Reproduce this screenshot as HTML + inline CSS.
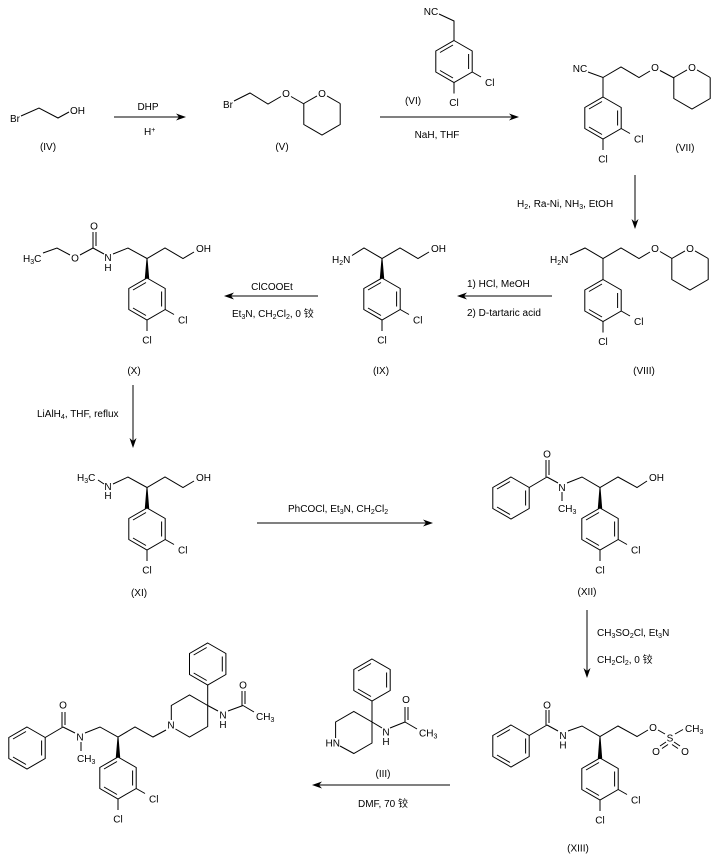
<!DOCTYPE html>
<html><head><meta charset="utf-8"><style>
html,body{margin:0;padding:0;background:#fff;}
svg{display:block;}
</style></head><body>
<svg width="720" height="854" viewBox="0 0 720 854" xmlns="http://www.w3.org/2000/svg" xmlns:xlink="http://www.w3.org/1999/xlink">
<defs>
<g id="ph" stroke="#000" stroke-width="1" fill="none">
<polygon points="0,0 18.2,10.5 18.2,31.5 0,42 -18.2,31.5 -18.2,10.5"/>
<line x1="-1" y1="4.5" x2="-14" y2="12"/>
<line x1="14.6" y1="13.5" x2="14.6" y2="28.5"/>
<line x1="-1" y1="37.5" x2="-14" y2="30"/>
</g>
<g id="dcp" stroke="#000" stroke-width="1" fill="none">
<use href="#ph" xlink:href="#ph"/>
<line x1="18.2" y1="31.5" x2="27" y2="36.5"/>
<line x1="0" y1="42" x2="0" y2="53"/>
</g>
<g id="thp" stroke="#000" stroke-width="1" fill="none">
<line x1="-18.2" y1="10.5" x2="-5" y2="2.9"/>
<line x1="5" y1="2.9" x2="18.2" y2="10.5"/>
<polyline points="18.2,10.5 18.2,31.5 0,42 -18.2,31.5 -18.2,10.5"/>
</g>
</defs>
<rect width="720" height="854" fill="#fff"/>

<g stroke="#000" stroke-width="1" fill="none">
<!-- IV -->
<polyline points="21,116 39,108 58,118 69,112"/>
<!-- arrow 1 -->
<line x1="114" y1="117" x2="181" y2="117"/>
<!-- V -->
<polyline points="234,101 250,93 268,104 281,96.5"/>
<line x1="291" y1="96.5" x2="304" y2="104"/>
<!-- VI -->
<polyline points="439,14 454,21 454,40.5"/>
<!-- arrow 2 -->
<line x1="380" y1="117" x2="513" y2="117"/>
<!-- VII -->
<polyline points="588,72 603,77.5 621,67 639,77.5 650,71"/>
<line x1="660" y1="70.5" x2="674" y2="78"/>
<line x1="603" y1="77.5" x2="603" y2="97"/>
<!-- arrow VII->VIII -->
<line x1="635" y1="175" x2="635" y2="223"/>
<!-- VIII -->
<polyline points="570,255 585,248 603,258.5 621,248 639,258.5 650,252"/>
<line x1="660" y1="251.5" x2="672" y2="258.5"/>
<line x1="603" y1="258.5" x2="603" y2="279.5"/>
<!-- arrow VIII->IX -->
<line x1="552" y1="296" x2="463" y2="296"/>
<!-- IX -->
<polyline points="352,255.5 364,248 382,258.5 400,248 418,258.5 429,252"/>
<!-- arrow IX->X -->
<line x1="318" y1="296" x2="230" y2="296"/>
<!-- X -->
<polyline points="43,253 57,248 70,255"/>
<line x1="80" y1="255" x2="93" y2="248"/>
<line x1="93" y1="248" x2="93" y2="232"/>
<line x1="96" y1="246" x2="96" y2="232"/>
<line x1="93" y1="248" x2="104" y2="254"/>
<polyline points="113,254 128,248 147,258.5 165,248 183,258.5 194,252"/>
<!-- arrow X->XI -->
<line x1="133" y1="385" x2="133" y2="442"/>
<!-- XI -->
<line x1="98" y1="480" x2="104" y2="484"/>
<polyline points="113,484 128,477 147,487.5 165,477 183,487.5 194,481"/>
<!-- arrow XI->XII -->
<line x1="257" y1="523" x2="427" y2="523"/>
<!-- XII -->
<line x1="529.2" y1="487.5" x2="547" y2="477"/>
<line x1="546" y1="477" x2="546" y2="460"/>
<line x1="549" y1="475" x2="549" y2="460"/>
<line x1="547" y1="477" x2="558" y2="483"/>
<line x1="562" y1="492" x2="562" y2="501"/>
<polyline points="567,483 582,477 600,487.5 618,477 637,487.5 647,481"/>
<!-- arrow XII->XIII -->
<line x1="587" y1="610" x2="587" y2="672"/>
<!-- XIII -->
<line x1="529.2" y1="735.5" x2="547" y2="725"/>
<line x1="546" y1="725" x2="546" y2="710"/>
<line x1="549" y1="723" x2="549" y2="710"/>
<line x1="547" y1="725" x2="558" y2="731"/>
<polyline points="568,731 582,726 600,736.5 618,726 637,736.5 648,730"/>
<line x1="658" y1="730" x2="665" y2="734"/>
<line x1="675" y1="734" x2="683" y2="729.5"/>
<line x1="666" y1="742" x2="660" y2="746"/>
<line x1="668" y1="744.5" x2="662" y2="748.5"/>
<line x1="674" y1="742" x2="680" y2="746"/>
<line x1="672" y1="744.5" x2="678" y2="748.5"/>
<!-- III -->
<line x1="372" y1="701" x2="372" y2="722"/>
<polyline points="335.6,738 335.6,722 353.8,711.5 372,722 372,743 353.8,753.5 340,746"/>
<line x1="372" y1="722" x2="382" y2="728"/>
<line x1="390" y1="728" x2="405" y2="722"/>
<line x1="405" y1="722" x2="405" y2="707"/>
<line x1="408" y1="720" x2="408" y2="707"/>
<line x1="405" y1="722" x2="417" y2="729"/>
<!-- arrow XIII->final -->
<line x1="450" y1="785" x2="318" y2="785"/>
<!-- final -->
<line x1="45.2" y1="737.5" x2="63" y2="727"/>
<line x1="62" y1="727" x2="62" y2="712"/>
<line x1="65" y1="725" x2="65" y2="712"/>
<line x1="63" y1="727" x2="75" y2="733"/>
<line x1="81" y1="742" x2="81" y2="751"/>
<polyline points="85,733 100,727 118,737 135,727 153,737 166,730"/>
<polyline points="171.3,720 171.3,705.5 189.5,695 207.7,705.5 207.7,726.5 189.5,737 175.5,729"/>
<line x1="207.7" y1="705.5" x2="207.7" y2="685"/>
<line x1="207.7" y1="705.5" x2="218" y2="711"/>
<line x1="228" y1="711" x2="243" y2="705.5"/>
<line x1="242" y1="705.5" x2="242" y2="691"/>
<line x1="245" y1="704" x2="245" y2="691"/>
<line x1="243" y1="705.5" x2="254" y2="712"/>
</g>

<!-- rings -->
<use href="#thp" xlink:href="#thp" x="322" y="93"/>
<use href="#dcp" xlink:href="#dcp" x="454" y="40.5"/>
<use href="#thp" xlink:href="#thp" x="692" y="67"/>
<use href="#dcp" xlink:href="#dcp" x="603" y="97"/>
<use href="#thp" xlink:href="#thp" x="690" y="248"/>
<use href="#dcp" xlink:href="#dcp" x="603" y="279.5"/>
<use href="#dcp" xlink:href="#dcp" x="382" y="278"/>
<use href="#dcp" xlink:href="#dcp" x="147" y="278"/>
<use href="#dcp" xlink:href="#dcp" x="147" y="508"/>
<use href="#ph" xlink:href="#ph" x="511" y="477"/>
<use href="#dcp" xlink:href="#dcp" x="600" y="508"/>
<use href="#ph" xlink:href="#ph" x="511" y="725"/>
<use href="#dcp" xlink:href="#dcp" x="600" y="758"/>
<use href="#ph" xlink:href="#ph" x="372" y="659"/>
<use href="#ph" xlink:href="#ph" x="27" y="727"/>
<use href="#ph" xlink:href="#ph" x="207.7" y="643"/>
<use href="#dcp" xlink:href="#dcp" x="118" y="757"/>

<!-- wedges + arrowheads -->
<g fill="#000" stroke="none">
<polygon points="381.5,258.5 382.5,258.5 384.2,278.5 379.8,278.5"/>
<polygon points="146.5,258.5 147.5,258.5 149.2,278.5 144.8,278.5"/>
<polygon points="146.5,487.5 147.5,487.5 149.2,508.5 144.8,508.5"/>
<polygon points="599.5,487.5 600.5,487.5 602.2,508.5 597.8,508.5"/>
<polygon points="599.5,736.5 600.5,736.5 602.2,758.5 597.8,758.5"/>
<polygon points="117.5,737 118.5,737 120.2,757.5 115.8,757.5"/>
<polygon points="186,117 176,113.5 179,117 176,120.5"/>
<polygon points="519,117 509,113.5 512,117 509,120.5"/>
<polygon points="635,229 631.5,219 635,222 638.5,219"/>
<polygon points="457,296 467,292.5 464,296 467,299.5"/>
<polygon points="224,296 234,292.5 231,296 234,299.5"/>
<polygon points="133,448 129.5,438 133,441 136.5,438"/>
<polygon points="433,523 423,519.5 426,523 423,526.5"/>
<polygon points="587,678 583.5,668 587,671 590.5,668"/>
<polygon points="312,785 322,781.5 319,785 322,788.5"/>
</g>

<g font-family="'Liberation Sans','Noto Sans CJK SC',sans-serif" font-size="10" fill="#000">
<!-- IV -->
<text x="10" y="122">Br</text>
<text x="70" y="114">OH</text>
<text x="48" y="150" text-anchor="middle">(IV)</text>
<text x="148" y="110" text-anchor="middle">DHP</text>
<text x="144" y="135">H<tspan font-size="7" dy="-3">+</tspan></text>
<!-- V -->
<text x="223" y="108">Br</text>
<text x="286" y="97" text-anchor="middle">O</text>
<text x="322" y="97" text-anchor="middle">O</text>
<text x="282" y="150" text-anchor="middle">(V)</text>
<!-- VI -->
<text x="431" y="15" text-anchor="middle">NC</text>
<text x="485" y="86">Cl</text>
<text x="454" y="106" text-anchor="middle">Cl</text>
<text x="413" y="104" text-anchor="middle">(VI)</text>
<text x="437" y="138" text-anchor="middle">NaH, THF</text>
<!-- VII -->
<text x="580" y="72" text-anchor="middle">NC</text>
<text x="655" y="71" text-anchor="middle">O</text>
<text x="692" y="71" text-anchor="middle">O</text>
<text x="634" y="142.5">Cl</text>
<text x="603" y="162.5" text-anchor="middle">Cl</text>
<text x="685" y="151" text-anchor="middle">(VII)</text>
<text x="517" y="207">H<tspan font-size="7" dy="2">2</tspan><tspan dy="-2">, Ra-Ni, NH</tspan><tspan font-size="7" dy="2">3</tspan><tspan dy="-2">, EtOH</tspan></text>
<!-- VIII -->
<text x="550" y="263">H<tspan font-size="7" dy="2">2</tspan><tspan dy="-2">N</tspan></text>
<text x="655" y="252" text-anchor="middle">O</text>
<text x="690" y="252" text-anchor="middle">O</text>
<text x="634" y="325">Cl</text>
<text x="603" y="345" text-anchor="middle">Cl</text>
<text x="644" y="374" text-anchor="middle">(VIII)</text>
<text x="467" y="287">1) HCl, MeOH</text>
<text x="467" y="316">2) D-tartaric acid</text>
<!-- IX -->
<text x="332" y="263">H<tspan font-size="7" dy="2">2</tspan><tspan dy="-2">N</tspan></text>
<text x="431" y="252">OH</text>
<text x="413" y="323.5">Cl</text>
<text x="382" y="343.5" text-anchor="middle">Cl</text>
<text x="381" y="374" text-anchor="middle">(IX)</text>
<text x="272" y="290" text-anchor="middle">ClCOOEt</text>
<text x="232" y="317">Et<tspan font-size="7" dy="2">3</tspan><tspan dy="-2">N, CH</tspan><tspan font-size="7" dy="2">2</tspan><tspan dy="-2">Cl</tspan><tspan font-size="7" dy="2">2</tspan><tspan dy="-2">, 0 铰</tspan></text>
<!-- X -->
<text x="23" y="262">H<tspan font-size="7" dy="2">3</tspan><tspan dy="-2">C</tspan></text>
<text x="75" y="261.5" text-anchor="middle">O</text>
<text x="94" y="229.5" text-anchor="middle">O</text>
<text x="108" y="261" text-anchor="middle">N</text>
<text x="108" y="271" text-anchor="middle">H</text>
<text x="196" y="252">OH</text>
<text x="178" y="323.5">Cl</text>
<text x="147" y="343.5" text-anchor="middle">Cl</text>
<text x="134" y="374" text-anchor="middle">(X)</text>
<text x="37" y="417">LiAlH<tspan font-size="7" dy="2">4</tspan><tspan dy="-2">, THF, reflux</tspan></text>
<!-- XI -->
<text x="77" y="481">H<tspan font-size="7" dy="2">3</tspan><tspan dy="-2">C</tspan></text>
<text x="108" y="490" text-anchor="middle">N</text>
<text x="108" y="499" text-anchor="middle">H</text>
<text x="196" y="481">OH</text>
<text x="178" y="553.5">Cl</text>
<text x="147" y="573.5" text-anchor="middle">Cl</text>
<text x="139" y="596" text-anchor="middle">(XI)</text>
<text x="288" y="512">PhCOCl, Et<tspan font-size="7" dy="2">3</tspan><tspan dy="-2">N, CH</tspan><tspan font-size="7" dy="2">2</tspan><tspan dy="-2">Cl</tspan><tspan font-size="7" dy="2">2</tspan></text>
<!-- XII -->
<text x="547" y="457.5" text-anchor="middle">O</text>
<text x="562" y="491" text-anchor="middle">N</text>
<text x="558" y="512">CH<tspan font-size="7" dy="2">3</tspan></text>
<text x="649" y="481">OH</text>
<text x="631" y="553.5">Cl</text>
<text x="600" y="573.5" text-anchor="middle">Cl</text>
<text x="587" y="595" text-anchor="middle">(XII)</text>
<text x="597" y="636">CH<tspan font-size="7" dy="2">3</tspan><tspan dy="-2">SO</tspan><tspan font-size="7" dy="2">2</tspan><tspan dy="-2">Cl, Et</tspan><tspan font-size="7" dy="2">3</tspan><tspan dy="-2">N</tspan></text>
<text x="597" y="663">CH<tspan font-size="7" dy="2">2</tspan><tspan dy="-2">Cl</tspan><tspan font-size="7" dy="2">2</tspan><tspan dy="-2">, 0 铰</tspan></text>
<!-- XIII -->
<text x="547" y="708.5" text-anchor="middle">O</text>
<text x="563" y="739" text-anchor="middle">N</text>
<text x="563" y="748.5" text-anchor="middle">H</text>
<text x="653" y="731" text-anchor="middle">O</text>
<text x="670" y="741.5" text-anchor="middle">S</text>
<text x="685" y="732">CH<tspan font-size="7" dy="2">3</tspan></text>
<text x="656" y="755" text-anchor="middle">O</text>
<text x="685" y="755" text-anchor="middle">O</text>
<text x="631" y="803.5">Cl</text>
<text x="600" y="823.5" text-anchor="middle">Cl</text>
<text x="578" y="851.5" text-anchor="middle">(XIII)</text>
<!-- III -->
<text x="340" y="746.5" text-anchor="end">HN</text>
<text x="386" y="735.5" text-anchor="middle">N</text>
<text x="386" y="745" text-anchor="middle">H</text>
<text x="406" y="703" text-anchor="middle">O</text>
<text x="419" y="736.5">CH<tspan font-size="7" dy="2">3</tspan></text>
<text x="383" y="777" text-anchor="middle">(III)</text>
<text x="358" y="807">DMF, 70 铰</text>
<!-- final -->
<text x="63" y="708.5" text-anchor="middle">O</text>
<text x="80" y="740.5" text-anchor="middle">N</text>
<text x="77" y="762">CH<tspan font-size="7" dy="2">3</tspan></text>
<text x="171" y="728.5" text-anchor="middle">N</text>
<text x="223" y="718.5" text-anchor="middle">N</text>
<text x="223" y="728" text-anchor="middle">H</text>
<text x="243" y="688.5" text-anchor="middle">O</text>
<text x="256" y="720">CH<tspan font-size="7" dy="2">3</tspan></text>
<text x="149" y="802.5">Cl</text>
<text x="118" y="822.5" text-anchor="middle">Cl</text>
</g>
</svg>
</body></html>
